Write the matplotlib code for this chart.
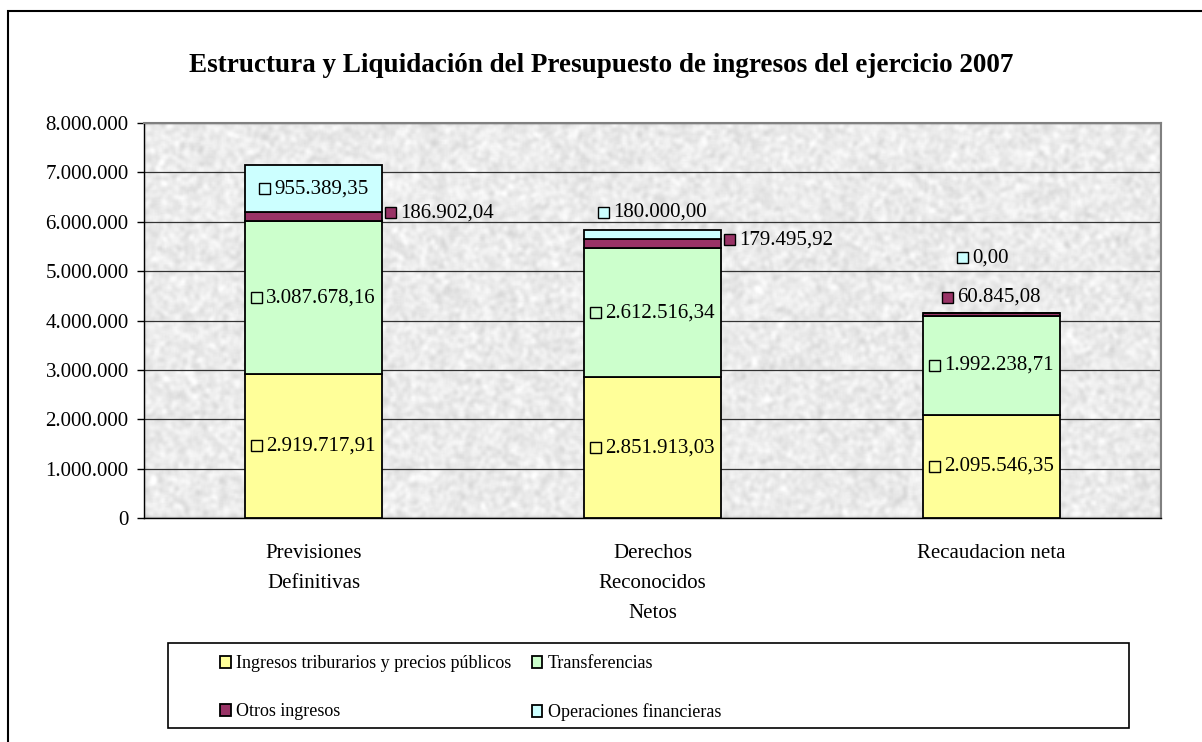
import numpy as np
import matplotlib
matplotlib.use("Agg")
import matplotlib.pyplot as plt
from matplotlib.patches import Rectangle
from matplotlib.offsetbox import DrawingArea, TextArea, HPacker, AnnotationBbox

plt.rcParams['font.family'] = ['Liberation Serif', 'DejaVu Serif']

# --- datos ---
categorias = ['Previsiones\nDefinitivas', 'Derechos\nReconocidos\nNetos', 'Recaudacion neta']
series = ['Ingresos triburarios y precios públicos', 'Transferencias',
          'Otros ingresos', 'Operaciones financieras']
ingresos_trib = [2919717.91, 2851913.03, 2095546.35]
transferencias = [3087678.16, 2612516.34, 1992238.71]
otros_ingresos = [186902.04, 179495.92, 60845.08]
operaciones_fin = [955389.35, 180000.00, 0.00]
valores = [ingresos_trib, transferencias, otros_ingresos, operaciones_fin]
colores = ['#FFFF99', '#CCFFCC', '#993366', '#CCFFFF']
yticks = np.arange(0, 8000001, 1000000)

# posicion de cada etiqueta: (modo, dx, dy) en puntos
etiquetas = [
    [('in', 0, 0), ('in', 0, 0), ('in', 0, 0)],
    [('in', 0, 0), ('in', 0, 0), ('in', 0, 0)],
    [('right', 2, 3), ('right', 2, 3), ('above', 0, 11.5)],
    [('in', 0, 0), ('above', 0, 13), ('above', -6, 40)],
]

def fmt_es(v, dec=2):
    s = f"{v:,.{dec}f}"
    return s.replace(',', 'X').replace('.', ',').replace('X', '.')

FS = 15

fig = plt.figure(figsize=(12.02, 7.42), dpi=100)
W, H = 1202, 742
ax = fig.add_axes([144 / W, 1 - 518 / H, (1161 - 144) / W, (518 - 123) / H])

# marco exterior
fig.patches.append(Rectangle((8 / W, -0.05), 1.1, 1 - 11 / H + 0.05, transform=fig.transFigure,
                             fill=False, edgecolor='black', lw=1.5))

# fondo tipo granito (textura decorativa)
rng = np.random.default_rng(7)
noise = rng.random((260, 680))
k = np.ones(3) / 3
for _ in range(2):
    noise = np.apply_along_axis(lambda r: np.convolve(r, k, mode='same'), 1, noise)
    noise = np.apply_along_axis(lambda c: np.convolve(c, k, mode='same'), 0, noise)
tex = 0.92 + (noise - noise.mean()) * 0.34
tex = np.clip(tex, 0.78, 1.0)
ax.imshow(tex, cmap='gray', vmin=0, vmax=1, extent=[0, 1, 0, 1], transform=ax.transAxes,
          aspect='auto', zorder=0, interpolation='bilinear')

x = np.arange(len(categorias))
ancho = 0.404
base = np.zeros(len(categorias))
for i, vals in enumerate(valores):
    ax.bar(x, vals, ancho, bottom=base, color=colores[i], edgecolor='black',
           linewidth=1.3, zorder=3, label=series[i])
    for j, v in enumerate(vals):
        modo, dx, dy = etiquetas[i][j]
        if modo == 'in':
            xy = (x[j], base[j] + v / 2)
            al = (0.5, 0.5)
        elif modo == 'right':
            xy = (x[j] + ancho / 2, base[j] + v / 2)
            al = (0.0, 0.5)
        else:
            xy = (x[j], base[j] + v)
            al = (0.5, 0.5)
        da = DrawingArea(8, 8, 0, 0)
        da.add_artist(Rectangle((0, 0), 8, 8, facecolor=colores[i], edgecolor='black', lw=1))
        ta = TextArea(fmt_es(v), textprops=dict(fontsize=FS, color='black'))
        pk = HPacker(children=[da, ta], pad=0, sep=3, align='center')
        ab = AnnotationBbox(pk, xy, xybox=(dx, dy), xycoords='data', boxcoords='offset points',
                            box_alignment=al, frameon=False, zorder=5)
        ax.add_artist(ab)
    base = base + np.array(vals)

ax.set_xlim(-0.5, 2.5)
ax.set_ylim(0, 8000000)
ax.set_yticks(yticks)
ax.set_yticklabels([fmt_es(t, 0) for t in yticks], fontsize=FS)
ax.set_xticks(x)
ax.set_xticklabels(categorias, fontsize=FS, linespacing=1.78, va='top')
ax.tick_params(axis='x', length=0, pad=19)
ax.tick_params(axis='y', length=5, width=1, pad=6, direction='out')
ax.yaxis.grid(True, color='#333333', linewidth=0.9, zorder=1)
ax.set_axisbelow(True)
for s in ['top', 'right']:
    ax.spines[s].set_color('#808080')
    ax.spines[s].set_linewidth(1.5)
for s in ['left', 'bottom']:
    ax.spines[s].set_color('black')
    ax.spines[s].set_linewidth(1)

fig.text(0.5, 1 - 66 / H, 'Estructura y Liquidación del Presupuesto de ingresos del ejercicio 2007',
         ha='center', va='center', fontsize=19.5, fontweight='bold')

# leyenda
fig.patches.append(Rectangle((168 / W, 1 - 728 / H), (1129 - 168) / W, (728 - 643) / H,
                             transform=fig.transFigure, fill=True, facecolor='white',
                             edgecolor='black', lw=1.2, zorder=1))
h, l = ax.get_legend_handles_labels()
orden = [0, 2, 1, 3]
leg = fig.legend([h[o] for o in orden], [l[o] for o in orden], ncol=2, loc='upper left',
                 bbox_to_anchor=(204 / W, 1 - 639 / H),
                 frameon=False, fontsize=13, handlelength=0.6, handleheight=0.6,
                 handletextpad=0.3, columnspacing=1.1, labelspacing=1.72)

fig.savefig('out.png', dpi=100)
